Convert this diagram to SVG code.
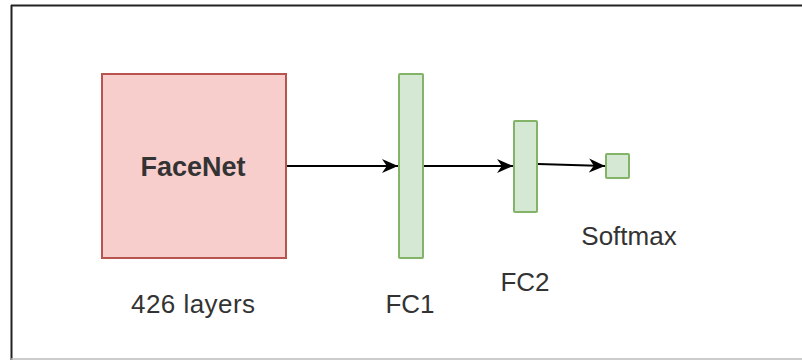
<svg xmlns="http://www.w3.org/2000/svg" width="802" height="360" viewBox="0 0 802 360">
  <style>
    .lbl { font-family: "Liberation Sans", Arial, sans-serif; font-size: 26px; fill: #333333; text-anchor: middle; }
    .title { font-weight: bold; font-size: 27px; }
    .red { fill: #f8cecc; stroke: #b85450; stroke-width: 2; }
    .green { fill: #d5e8d4; stroke: #82b366; stroke-width: 2; }
    .edge { fill: none; stroke: #000000; stroke-width: 2; }
  </style>
  <defs>
    <marker id="arrow" viewBox="0 0 10 10" refX="10" refY="5" markerWidth="16" markerHeight="16" markerUnits="userSpaceOnUse" orient="auto">
      <path d="M0,0.6 L10,5 L0,9.4 L3,5 Z" fill="#000000"/>
    </marker>
  </defs>
  <rect width="802" height="360" fill="#ffffff"/>
  <!-- frame -->
  <g id="frame">
    <line x1="11" y1="5.5" x2="802" y2="5.5" stroke="#222222" stroke-width="2"/>
    <line x1="11.5" y1="5" x2="11.5" y2="360" stroke="#222222" stroke-width="2"/>
    <line x1="11" y1="359" x2="802" y2="359" stroke="#bbbbbb" stroke-width="1.5"/>
  </g>
  <g id="connectors">
    <path class="edge" d="M287,166 L398,166" marker-end="url(#arrow)"/>
    <path class="edge" d="M424,166 L513,166" marker-end="url(#arrow)"/>
    <path class="edge" d="M538,164 L605,166" marker-end="url(#arrow)"/>
  </g>
  <g id="facenet">
    <rect class="red" x="102" y="74" width="184" height="184"/>
    <text class="lbl title" x="193" y="176">FaceNet</text>
    <text class="lbl" x="193" y="313" textLength="124">426 layers</text>
  </g>
  <g id="fc1">
    <rect class="green" x="399" y="74" width="24" height="184" rx="1"/>
    <text class="lbl" x="410" y="313">FC1</text>
  </g>
  <g id="fc2">
    <rect class="green" x="514" y="121" width="23" height="91" rx="1"/>
    <text class="lbl" x="525" y="291">FC2</text>
  </g>
  <g id="softmax">
    <rect class="green" x="606" y="154" width="23" height="24" rx="1"/>
    <text class="lbl" x="629" y="245">Softmax</text>
  </g>
</svg>
